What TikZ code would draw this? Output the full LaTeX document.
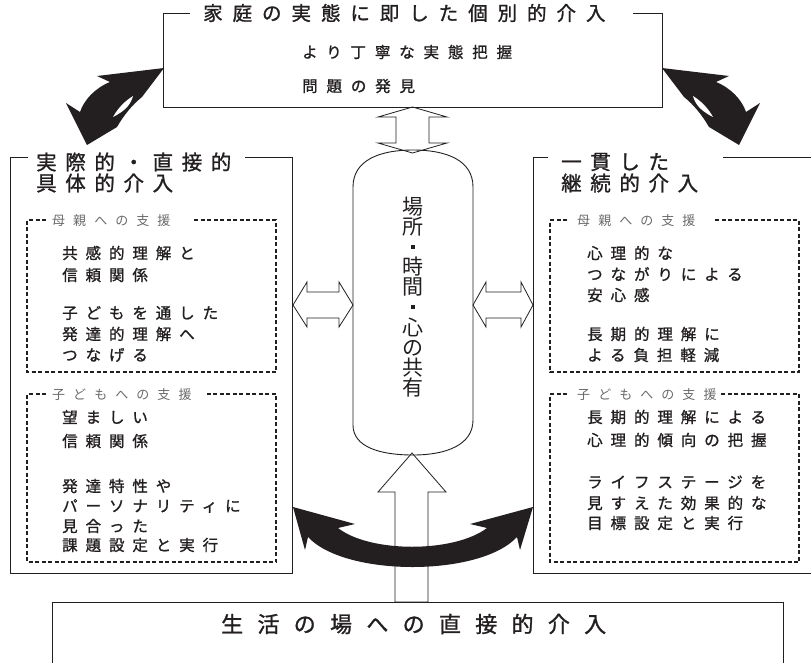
\documentclass[tikz,border=0pt]{standalone}
\usepackage{fontspec}
\setmainfont{Noto Sans CJK JP}
\newfontfamily\jpm[FakeBold=1.2]{Noto Sans CJK JP}
\newfontfamily\jpr{Noto Sans CJK JP}
\definecolor{ink}{HTML}{231F20}
\definecolor{lab}{HTML}{6A6A6A}
\newcommand{\sqdot}{\raisebox{5.6pt}{\rule{4.5pt}{4.5pt}}}
\tikzset{
  frame/.style={draw=ink, line width=0.9pt},
  dbox/.style={draw=ink, line width=1.2pt, dash pattern=on 4pt off 2.5pt},
  hollow/.style={draw=ink, fill=white, line width=0.8pt, line join=miter},
  blackarrow/.style={fill=ink, draw=none},
  txt/.style={anchor=west, inner sep=0pt, text=ink, font={\jpm\fontsize{15.5}{17}\selectfont\addfontfeature{LetterSpace=51}}},
  sub/.style={txt, font={\jpm\fontsize{15.5}{17}\selectfont\addfontfeature{LetterSpace=57}}},
  toptitle/.style={txt, font={\jpm\fontsize{19.5}{21}\selectfont\addfontfeature{LetterSpace=51}}},
  btitle/.style={txt, font={\jpm\fontsize{20.5}{22}\selectfont\addfontfeature{LetterSpace=42}}},
  bottitle/.style={txt, font={\jpm\fontsize{22}{24}\selectfont\addfontfeature{LetterSpace=65}}},
  lbl/.style={anchor=west, inner sep=0pt, text=lab, font={\jpr\fontsize{13}{15}\selectfont\addfontfeature{LetterSpace=62}}},
}
\begin{document}
\begin{tikzpicture}[x=1pt,y=-1pt]
\useasboundingbox (0,0) rectangle (811,662);

% ---- hollow arrows (drawn first) ----
\draw[hollow] (412.5,107) -- (447,117) -- (429,117) -- (429,143) -- (447,143) -- (412.5,153)
  -- (378,143) -- (396,143) -- (396,117) -- (378,117) -- cycle;
\draw[hollow] (293,305) -- (307,282) -- (307,292) -- (339,292) -- (339,282) -- (353,305)
  -- (339,327) -- (339,318) -- (307,318) -- (307,327) -- cycle;
\draw[hollow] (473,305) -- (486,282) -- (486,292) -- (521,292) -- (521,282) -- (533,305)
  -- (521,327) -- (521,318) -- (486,318) -- (486,327) -- cycle;
\draw[hollow] (412,453) -- (446,492) -- (428,492) -- (428,602) -- (395,602) -- (395,492)
  -- (378,492) -- cycle;

% ---- pill ----
\draw[frame] (353,187) .. controls (353,160) and (380,150) .. (413,150)
  .. controls (446,150) and (473,160) .. (473,187) -- (473,420)
  .. controls (473,445) and (446,455) .. (413,455)
  .. controls (380,455) and (353,447) .. (353,425) -- cycle;
\node[inner sep=0pt, text=ink, align=center, font={\jpr\fontsize{21}{20.1}\selectfont}] (pill) at (413,297)
  {場\\所\\\sqdot\\時\\間\\\sqdot\\心\\の\\共\\有};

% ---- top box ----
\draw[frame] (190,13) -- (163,13) -- (163,107) -- (662,107) -- (662,13) -- (633,13);
\node[toptitle] (t0) at (203,13) {家庭の実態に即した個別的介入};
\node[sub] (t1) at (302,52) {より丁寧な実態把握};
\node[sub] (t2) at (302,86) {問題の発見};

% ---- left box ----
\draw[frame] (28,157) -- (10,157) -- (10,573) -- (292,573) -- (292,157) -- (245,157);
\node[btitle] (l0) at (36,162) {実際的・直接的};
\node[btitle] (l1) at (36,183) {具体的介入};

\draw[dbox] (46,220) -- (27,220) -- (27,372) -- (276,372) -- (276,220) -- (193,220);
\node[lbl] (lm) at (52,221) {母親への支援};
\node[txt] (la1) at (62,253) {共感的理解と};
\node[txt] (la2) at (62,275) {信頼関係};
\node[txt] (la3) at (62,313) {子どもを通した};
\node[txt] (la4) at (62,334) {発達的理解へ};
\node[txt] (la5) at (62,355) {つなげる};

\draw[dbox] (46,394) -- (27,394) -- (27,562) -- (276,562) -- (276,394) -- (205,394);
\node[lbl] (lc) at (52,395) {子どもへの支援};
\node[txt] (lb1) at (62,417) {望ましい};
\node[txt] (lb2) at (62,441) {信頼関係};
\node[txt] (lb3) at (62,486) {発達特性や};
\node[txt] (lb4) at (62,506) {パーソナリティに};
\node[txt] (lb5) at (62,526) {見合った};
\node[txt] (lb6) at (62,545) {課題設定と実行};

% ---- right box ----
\draw[frame] (548,157) -- (533,157) -- (533,573) -- (812,573);
\draw[frame] (723,157) -- (812,157);
\node[btitle] (r0) at (561,162) {一貫した};
\node[btitle] (r1) at (561,183) {継続的介入};

\draw[dbox] (567,220) -- (550,220) -- (550,372) -- (799,372) -- (799,220) -- (715,220);
\node[lbl] (rm) at (577,221) {母親への支援};
\node[txt] (ra1) at (587,253) {心理的な};
\node[txt] (ra2) at (587,274) {つながりによる};
\node[txt] (ra3) at (587,295) {安心感};
\node[txt] (ra4) at (587,334) {長期的理解に};
\node[txt] (ra5) at (587,355) {よる負担軽減};

\draw[dbox] (567,394) -- (550,394) -- (550,562) -- (799,562) -- (799,394) -- (719,394);
\node[lbl] (rc) at (577,395) {子どもへの支援};
\node[txt] (rb1) at (587,417) {長期的理解による};
\node[txt] (rb2) at (587,440) {心理的傾向の把握};
\node[txt] (rb3) at (587,482) {ライフステージを};
\node[txt] (rb4) at (587,503) {見すえた効果的な};
\node[txt] (rb5) at (587,523) {目標設定と実行};

% ---- bottom box ----
\draw[frame] (52,663) -- (52,602) -- (783,602) -- (783,663);
\node[bottitle] (b0) at (221,624) {生活の場への直接的介入};

% ---- black curved arrows ----
\fill[blackarrow] (164,68) -- (97,76) -- (110,82) .. controls (95,88) and (84,100) .. (80,112)
  -- (66,103) -- (87,145) -- (117,127) .. controls (124,115) and (132,105) .. (142,97) -- cycle;
\fill[white] (113,117) .. controls (118,108) and (125,101) .. (133,96)
  .. controls (131,103) and (127,110) .. cycle;
\begin{scope}[xshift=826pt, xscale=-1]
\fill[blackarrow] (164,68) -- (97,76) -- (110,82) .. controls (95,88) and (84,100) .. (80,112)
  -- (66,103) -- (87,145) -- (117,127) .. controls (124,115) and (132,105) .. (142,97) -- cycle;
\fill[white] (113,117) .. controls (118,108) and (125,101) .. (133,96)
  .. controls (131,103) and (127,110) .. cycle;
\end{scope}
\fill[blackarrow] (293,507) -- (355,524) -- (338,528) .. controls (370,553) and (454,553) .. (487,528)
  -- (470,524) -- (533,507) -- (520,550) -- (517,537) .. controls (480,577) and (345,577) .. (308,537)
  -- (305,550) -- cycle;
\end{tikzpicture}
\end{document}
